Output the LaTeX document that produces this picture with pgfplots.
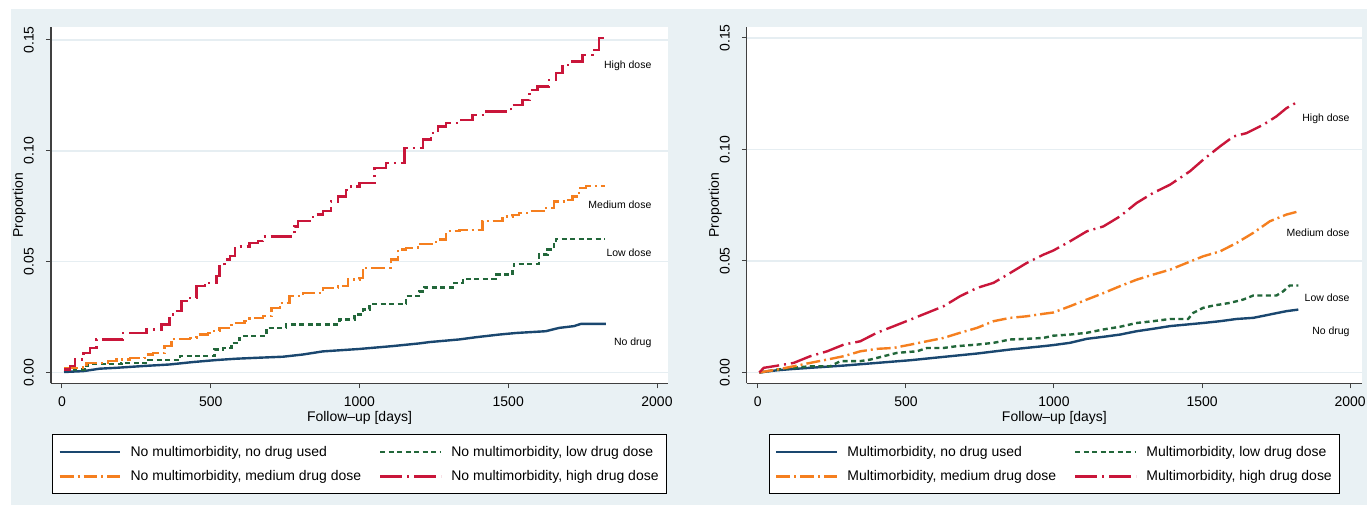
\documentclass[border=0pt]{standalone}
\usepackage{pgfplots}
\pgfplotsset{compat=1.18}
\usepackage{fontspec}
\setmainfont{Liberation Sans}

\definecolor{StBg}{HTML}{E9F1F4}
\definecolor{StGrid}{HTML}{E6EEF2}
\definecolor{StNavy}{HTML}{1A476F}
\definecolor{StGreen}{HTML}{22673A}
\definecolor{StOrange}{HTML}{F57F1F}
\definecolor{StRed}{HTML}{C9163A}

\newcommand{\tickfont}{\fontsize{14}{16.5}\selectfont}
\newcommand{\notefont}{\fontsize{10.5}{12}\selectfont}

\pgfplotsset{
  stata/.style={
    scale only axis,
    height=357pt,
    axis background/.style={fill=white},
    axis x line*=bottom,
    axis y line*=left,
    axis line style={black!75, line width=1.2pt},
    tick style={black!75, line width=1pt},
    tick align=outside,
    major tick length=5pt,
    xtick={0,500,1000,1500,2000},
    ytick={0,0.05,0.10,0.15},
    ymajorgrids,
    grid style={StGrid, line width=1.6pt},
    /pgf/number format/assume math mode=true,
    /pgf/number format/1000 sep={},
    yticklabel style={/pgf/number format/fixed, /pgf/number format/fixed zerofill,
      /pgf/number format/precision=2, rotate=90, anchor=south, inner ysep=12pt,
      font=\tickfont},
    xticklabel style={font=\tickfont, inner ysep=8.5pt},
    scaled y ticks=false,
    label style={font=\tickfont},
    xlabel={Follow--up [days]},
    ylabel={Proportion},
    xlabel style={at={(axis description cs:0.5,-0.098)}, anchor=center},
    ylabel style={at={(axis description cs:-0.0515,0.5)}, anchor=center},
    legend columns=2,
    legend cell align=left,
    legend image code/.code={\draw[##1] (0pt,0pt) -- (61pt,0pt);},
    legend style={at={(0.5,-0.143)}, anchor=north, draw=black, line width=1pt,
      fill=white, font=\tickfont, inner xsep=6pt, inner ysep=9pt, row sep=9pt,
      /tikz/every odd column/.append style={column sep=7pt},
      /tikz/every even column/.append style={column sep=16pt}},
  },
  nodrug/.style={StNavy, line width=2.4pt},
  lowdose/.style={StGreen, line width=2.4pt, dash pattern=on 5pt off 3.5pt},
  meddose/.style={StOrange, line width=2.4pt, dash pattern=on 14pt off 4pt on 2pt off 4pt},
  highdose/.style={StRed, line width=2.4pt, dash pattern=on 22pt off 5pt on 2pt off 5pt},
}

\begin{document}
\begin{tikzpicture}
\fill[white] (0pt,0pt) rectangle (1369pt,506pt);
\fill[StBg] (11pt,0pt) rectangle (1369pt,497pt);

% ---- left panel: no multimorbidity ----
\begin{axis}[stata, at={(51pt,122pt)}, anchor=south west, width=618pt,
  xmin=-37, xmax=2037, ymin=-0.00495, ymax=0.15586]
\addplot[nodrug] coordinates {
  (7,0.0002) (72,0.0006) (127,0.0017) (183,0.0021) (273,0.0029) (362,0.0036)
  (441,0.0047) (519,0.0056) (586,0.0062) (653,0.0066) (743,0.0071) (810,0.0081)
  (877,0.0095) (944,0.0101) (1000,0.0106) (1112,0.0119) (1201,0.0131)
  (1235,0.0137) (1336,0.0149) (1392,0.0159) (1470,0.0171) (1526,0.0178)
  (1626,0.0186) (1671,0.0201) (1721,0.0209) (1744,0.0219) (1828,0.0219)};
\addlegendentry{No multimorbidity, no drug used}
\addplot[lowdose, const plot] coordinates {
  (7,0.0014) (82,0.0029) (88,0.0039) (183,0.0039) (200,0.0044) (290,0.0056)
  (396,0.0074) (513,0.0104) (541,0.0111) (570,0.0134) (597,0.0156)
  (603,0.0164) (687,0.0201) (743,0.0201) (754,0.0216) (933,0.0239)
  (983,0.0261) (1011,0.0284) (1034,0.0309) (1157,0.0344) (1201,0.0366)
  (1218,0.0384) (1319,0.0404) (1347,0.0422) (1458,0.0441) (1514,0.0479)
  (1520,0.0490) (1604,0.0532) (1632,0.0554) (1654,0.0584) (1660,0.0602)
  (1826,0.0602)};
\addlegendentry{No multimorbidity, low drug dose}
\addplot[meddose, const plot] coordinates {
  (7,0.0021) (60,0.0023) (82,0.0044) (155,0.0051) (183,0.0059) (228,0.0066)
  (278,0.0081) (306,0.0089) (345,0.0119) (368,0.0152) (430,0.0156)
  (452,0.0171) (491,0.0178) (508,0.0186) (530,0.0201) (570,0.0224)
  (614,0.0231) (631,0.0246) (676,0.0254) (704,0.0291) (732,0.0314)
  (765,0.0344) (810,0.0359) (877,0.0381) (927,0.0389) (961,0.0419)
  (1000,0.0426) (1011,0.0472) (1106,0.0509) (1129,0.0554) (1157,0.0562)
  (1196,0.0580) (1258,0.0599) (1291,0.0637) (1336,0.0642) (1414,0.0682)
  (1481,0.0704) (1514,0.0711) (1537,0.0719) (1570,0.0727) (1626,0.0743)
  (1654,0.0772) (1693,0.0779) (1716,0.0794) (1738,0.0832) (1761,0.0842)
  (1826,0.0842)};
\addlegendentry{No multimorbidity, medium drug dose}
\addplot[highdose, const plot] coordinates {
  (7,0.0014) (27,0.0029) (44,0.0059) (72,0.0089) (94,0.0111) (116,0.0149)
  (206,0.0179) (284,0.0194) (334,0.0216) (362,0.0261) (379,0.0276)
  (402,0.0321) (430,0.0336) (452,0.0389) (480,0.0404) (519,0.0434)
  (530,0.0479) (547,0.0509) (564,0.0524) (581,0.0569) (631,0.0584)
  (659,0.0592) (676,0.0614) (782,0.0659) (793,0.0682) (843,0.0712)
  (877,0.0727) (905,0.0772) (927,0.0794) (955,0.0824) (972,0.0839)
  (1000,0.0855) (1050,0.0922) (1090,0.0945) (1151,0.1012) (1213,0.1050)
  (1241,0.1080) (1263,0.1110) (1291,0.1125) (1341,0.1140) (1380,0.1162)
  (1419,0.1177) (1509,0.1207) (1548,0.1230) (1571,0.1275) (1599,0.1290)
  (1638,0.1320) (1660,0.1350) (1683,0.1388) (1716,0.1402) (1750,0.1433)
  (1783,0.1455) (1806,0.1508) (1826,0.1510)};
\addlegendentry{No multimorbidity, high drug dose}
\node[font=\notefont, anchor=east] at (axis cs:1993,0.1385) {High dose};
\node[font=\notefont, anchor=east] at (axis cs:1993,0.0757) {Medium dose};
\node[font=\notefont, anchor=east] at (axis cs:1993,0.0541) {Low dose};
\node[font=\notefont, anchor=east] at (axis cs:1993,0.0136) {No drug};
\end{axis}

% ---- right panel: multimorbidity ----
\begin{axis}[stata, at={(748pt,122pt)}, anchor=south west, width=616pt,
  xmin=-37, xmax=2040, ymin=-0.0049, ymax=0.1549]
\addplot[nodrug] coordinates {
  (5,0) (65,0.0010) (121,0.0016) (177,0.0021) (290,0.0031) (402,0.0043)
  (515,0.0055) (627,0.0070) (740,0.0085) (852,0.0103) (964,0.0118)
  (998,0.0123) (1054,0.0133) (1111,0.0151) (1167,0.0160) (1223,0.0170)
  (1279,0.0185) (1335,0.0196) (1392,0.0208) (1448,0.0215) (1504,0.0222)
  (1561,0.0230) (1617,0.0240) (1673,0.0245) (1729,0.0260) (1785,0.0275)
  (1825,0.0282)};
\addlegendentry{Multimorbidity, no drug used}
\addplot[lowdose] coordinates {
  (5,0) (65,0.0013) (121,0.0021) (177,0.0028) (245,0.0028) (279,0.0051)
  (346,0.0051) (380,0.0058) (425,0.0073) (470,0.0088) (537,0.0095)
  (571,0.0110) (627,0.0110) (672,0.0118) (740,0.0125) (796,0.0133)
  (852,0.0148) (908,0.0151) (964,0.0155) (998,0.0165) (1054,0.0170)
  (1111,0.0178) (1167,0.0193) (1223,0.0205) (1279,0.0222) (1335,0.0230)
  (1392,0.0240) (1453,0.0240) (1470,0.0267) (1504,0.0290) (1538,0.0300)
  (1594,0.0312) (1639,0.0327) (1673,0.0345) (1751,0.0345) (1774,0.0364)
  (1796,0.0390) (1825,0.0390)};
\addlegendentry{Multimorbidity, low drug dose}
\addplot[meddose] coordinates {
  (5,0) (65,0.0013) (121,0.0028) (177,0.0043) (234,0.0058) (290,0.0073)
  (346,0.0095) (402,0.0106) (458,0.0110) (515,0.0125) (571,0.0140)
  (627,0.0155) (683,0.0178) (740,0.0200) (796,0.0230) (852,0.0245)
  (908,0.0252) (964,0.0263) (998,0.0269) (1054,0.0297) (1111,0.0327)
  (1167,0.0356) (1223,0.0387) (1279,0.0416) (1335,0.0439) (1392,0.0461)
  (1448,0.0491) (1504,0.0521) (1561,0.0543) (1617,0.0581) (1673,0.0626)
  (1729,0.0678) (1785,0.0708) (1825,0.0722)};
\addlegendentry{Multimorbidity, medium drug dose}
\addplot[highdose] coordinates {
  (5,0) (20,0.0021) (54,0.0028) (121,0.0043) (177,0.0073) (234,0.0095)
  (290,0.0125) (346,0.0140) (402,0.0178) (458,0.0207) (515,0.0237)
  (571,0.0267) (627,0.0297) (683,0.0342) (740,0.0379) (796,0.0402)
  (852,0.0446) (908,0.0491) (964,0.0528) (998,0.0547) (1054,0.0588)
  (1111,0.0633) (1167,0.0655) (1223,0.0700) (1279,0.0760) (1335,0.0805)
  (1392,0.0842) (1459,0.0902) (1504,0.0954) (1561,0.1014) (1606,0.1058)
  (1650,0.1073) (1707,0.1111) (1751,0.1148) (1785,0.1185) (1825,0.1215)};
\addlegendentry{Multimorbidity, high drug dose}
\node[font=\notefont, anchor=east] at (axis cs:2010,0.1138) {High dose};
\node[font=\notefont, anchor=east] at (axis cs:2010,0.0627) {Medium dose};
\node[font=\notefont, anchor=east] at (axis cs:2010,0.0336) {Low dose};
\node[font=\notefont, anchor=east] at (axis cs:2010,0.0184) {No drug};
\end{axis}
\end{tikzpicture}
\end{document}
